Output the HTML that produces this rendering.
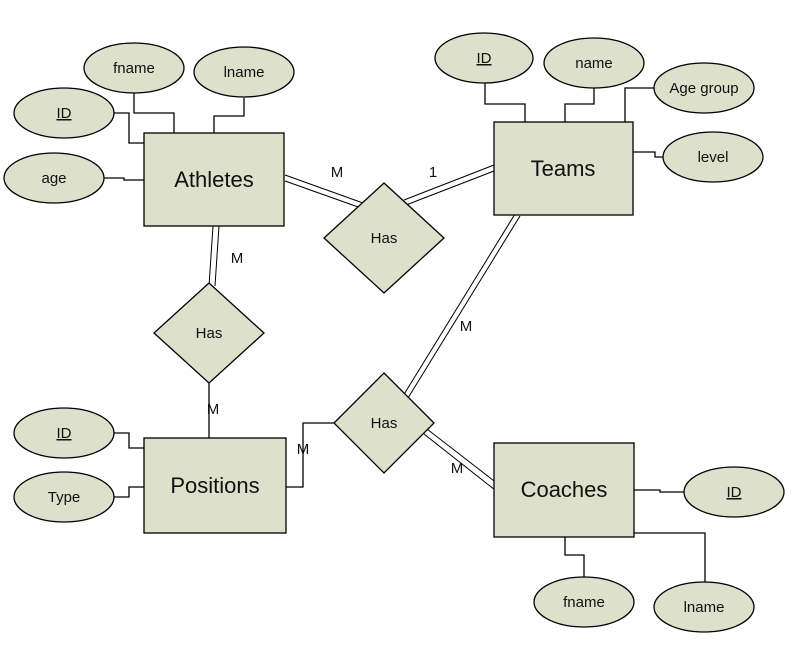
<!DOCTYPE html>
<html><head><style>body{margin:0;background:#fff}svg{display:block}text{font-family:"Liberation Sans",sans-serif;fill:#111}</style></head><body>
<svg width="804" height="656" viewBox="0 0 804 656" xmlns="http://www.w3.org/2000/svg">
<g fill="none" stroke="#000" stroke-width="1.3">
<polyline points="114,113 129,113 129,143 144,143"/>
<polyline points="134,93 134,113 174,113 174,133"/>
<polyline points="244,98 244,116 214,116 214,133"/>
<polyline points="104,178 124,178 124,180 144,180"/>
<polyline points="485,83 485,104 525,104 525,122"/>
<polyline points="594,88 594,104 565,104 565,122"/>
<polyline points="654,88 625,88 625,122"/>
<polyline points="633,152 655,152 655,157 663,157"/>
<polyline points="114,433 129,433 129,448 144,448"/>
<polyline points="114,497 129,497 129,487 144,487"/>
<polyline points="634,490 660,490 660,492 684,492"/>
<polyline points="565,537 565,555 584,555 584,577"/>
<polyline points="634,533 705,533 705,582"/>
<line x1="209" y1="383" x2="209" y2="438"/>
<polyline points="286,487 303,487 303,423 335,423"/>
</g>
<g stroke="#000" stroke-width="1">
<line x1="285" y1="175" x2="363" y2="203"/><line x1="285" y1="181" x2="361" y2="208"/>
<line x1="494" y1="165" x2="404" y2="200"/><line x1="494" y1="171" x2="406" y2="205"/>
<line x1="515" y1="214" x2="403" y2="396"/><line x1="520" y1="216" x2="408" y2="398"/>
<line x1="427" y1="429" x2="498" y2="484"/><line x1="424" y1="434" x2="495" y2="490"/>
<line x1="213" y1="226" x2="209" y2="286"/><line x1="219" y1="226" x2="215" y2="286"/>
</g>
<g fill="#dde0cb" stroke="#000" stroke-width="1.3">
<rect x="144" y="133" width="140" height="93"/>
<rect x="494" y="122" width="139" height="93"/>
<rect x="144" y="438" width="142" height="95"/>
<rect x="494" y="443" width="140" height="94"/>
<ellipse cx="134" cy="68" rx="50" ry="25"/>
<ellipse cx="244" cy="72" rx="50" ry="25"/>
<ellipse cx="64" cy="113" rx="50" ry="25"/>
<ellipse cx="54" cy="178" rx="50" ry="25"/>
<ellipse cx="484" cy="58" rx="49" ry="25"/>
<ellipse cx="594" cy="63" rx="50" ry="25"/>
<ellipse cx="704" cy="88" rx="50" ry="25"/>
<ellipse cx="713" cy="157" rx="50" ry="25"/>
<ellipse cx="64" cy="433" rx="50" ry="25"/>
<ellipse cx="64" cy="497" rx="50" ry="25"/>
<ellipse cx="734" cy="492" rx="50" ry="25"/>
<ellipse cx="584" cy="602" rx="50" ry="25"/>
<ellipse cx="704" cy="607" rx="50" ry="25"/>
<polygon points="384,183 444,238 384,293 324,238"/>
<polygon points="209,283 264,333 209,383 154,333"/>
<polygon points="384,373 434,423 384,473 334,423"/>
</g>
<g font-size="22" text-anchor="middle">
<text x="214" y="187">Athletes</text>
<text x="563" y="176">Teams</text>
<text x="215" y="493">Positions</text>
<text x="564" y="497">Coaches</text>
</g>
<g font-size="15" text-anchor="middle">
<text x="134" y="73">fname</text>
<text x="244" y="77">lname</text>
<text x="64" y="118" text-decoration="underline">ID</text>
<text x="54" y="183">age</text>
<text x="484" y="63" text-decoration="underline">ID</text>
<text x="594" y="68">name</text>
<text x="704" y="93">Age group</text>
<text x="713" y="162">level</text>
<text x="64" y="438" text-decoration="underline">ID</text>
<text x="64" y="502">Type</text>
<text x="734" y="497" text-decoration="underline">ID</text>
<text x="584" y="607">fname</text>
<text x="704" y="612">lname</text>
<text x="384" y="243">Has</text>
<text x="209" y="338">Has</text>
<text x="384" y="428">Has</text>
<text x="337" y="177">M</text>
<text x="433" y="177">1</text>
<text x="237" y="263">M</text>
<text x="213" y="414">M</text>
<text x="303" y="454">M</text>
<text x="466" y="331">M</text>
<text x="457" y="473">M</text>
</g>
</svg>
</body></html>
